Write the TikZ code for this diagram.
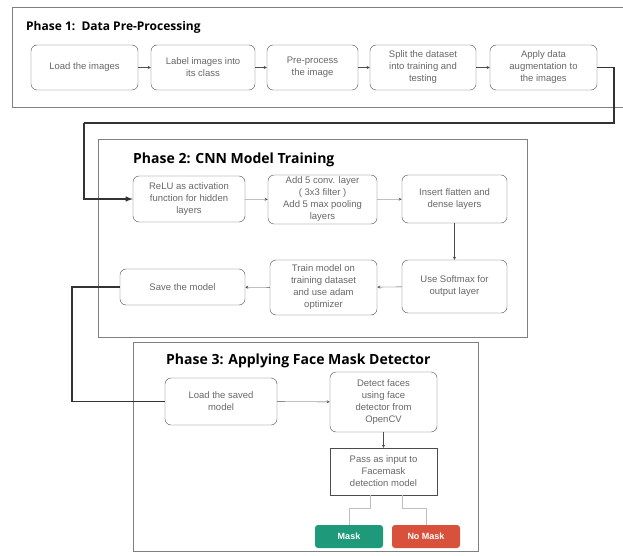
\documentclass[tikz,border=0pt]{standalone}
\usepackage{fontspec}
\setmainfont{Liberation Sans}
\newfontfamily\titlefont{Open Sans}
\usetikzlibrary{calc,arrows,positioning}
\definecolor{maskgreen}{HTML}{1E9A7A}
\definecolor{nomaskred}{HTML}{D8513B}

\begin{document}
\begin{tikzpicture}[x=1pt, y=-1pt]

\tikzset{
proc/.style={draw=black!70,rounded corners=6pt,thin,align=center,text=black!60,inner sep=2pt,font=\fontsize{9.5}{12}\selectfont},
plainproc/.style={proc,rounded corners=0pt},
phase/.style={draw=black!50,line width=1pt},
flow/.style={->,>=stealth,draw=black!70,thin},
link/.style={draw=black!80,line width=1.5pt},
choice/.style={rounded corners=3pt,text=white,minimum width=68pt,minimum height=23pt,font=\bfseries\fontsize{9}{11}\selectfont},
faint/.style={draw=black!25,very thin}
}

\useasboundingbox (0,0) rectangle (623,556);

% Phase frames
\draw[phase] (12,8) rectangle (640,108);
\draw[phase] (98,140) rectangle (527,337);
\draw[phase] (133,342) rectangle (478,551);

% Labels
\node[anchor=west,inner sep=0pt] (title1) at (26,27) {\titlefont\bfseries\fontsize{12}{14}\selectfont Phase 1:\ \ Data Pre-Processing};
\node[anchor=west,inner sep=0pt] (title2) at (133,160) {\titlefont\bfseries\fontsize{14}{16}\selectfont Phase 2: CNN Model Training};
\node[anchor=west,inner sep=0pt] (title3) at (166,361) {\titlefont\bfseries\fontsize{14}{16}\selectfont Phase 3: Applying Face Mask Detector};

% Nodes - phase 1
\node[proc,minimum width=107pt,minimum height=45pt] (load) at (84.5,67.5) {Load the images};
\node[proc,minimum width=104pt,minimum height=45pt] (label) at (203,67.5) {Label images into\\its class};
\node[proc,minimum width=91pt,minimum height=45pt] (prep) at (312.5,67.5) {Pre-process\\the image};
\node[proc,minimum width=106pt,minimum height=45pt] (split) at (423,67.5) {Split the dataset\\into training and\\testing};
\node[proc,minimum width=107pt,minimum height=45pt] (augm) at (543.5,67.5) {Apply data\\augmentation to\\the images};

% Nodes - phase 2
\node[proc,minimum width=112pt,minimum height=46pt] (relu) at (189,199) {ReLU as activation\\function for hidden\\layers};
\node[proc,minimum width=109pt,minimum height=49pt] (conv) at (322.5,199.5) {Add 5 conv. layer\\( 3x3 filter )\\Add 5 max pooling\\layers};
\node[proc,minimum width=105pt,minimum height=48pt] (flat) at (454.5,199) {Insert flatten and\\dense layers};
\node[proc,minimum width=105pt,minimum height=53pt] (soft) at (454.5,286.5) {Use Softmax for\\output layer};
\node[proc,minimum width=107pt,minimum height=55pt] (train) at (323.5,287.5) {Train model on\\training dataset\\and use adam\\optimizer};
\node[proc,minimum width=125pt,minimum height=36pt] (save) at (182.5,287) {Save the model};

% Nodes - phase 3
\node[proc,minimum width=112pt,minimum height=47pt] (loadmod) at (221,401.5) {Load the saved\\model};
\node[proc,minimum width=107pt,minimum height=60pt] (detect) at (383.5,402) {Detect faces\\using face\\detector from\\OpenCV};
\node[plainproc,minimum width=107pt,minimum height=47pt] (pass) at (383.5,471.5) {Pass as input to\\Facemask\\detection model};
\node[choice,fill=maskgreen] (mask) at (349,536.5) {Mask};
\node[choice,fill=nomaskred] (nomask) at (426,536.5) {No Mask};

% Turning points
\coordinate (turn1) at (614,123);
\coordinate (turn2) at (84,123);
\coordinate (turn3) at (72,287);
\coordinate (passl) at (370,495);
\coordinate (passr) at (402,495);

% Arrows
\draw[flow] (load) -- (label);
\draw[flow] (label) -- (prep);
\draw[flow] (prep) -- (split);
\draw[flow] (split) -- (augm);

\draw[link] (augm.east) -| (turn1) -- (turn2);
\draw[link,->,>=latex] (turn2) |- (relu.west);

\draw[flow] (relu) -- (conv);
\draw[flow] (conv) -- (flat);
\draw[flow] (flat) -- (soft);
\draw[flow] (soft) -- (train);
\draw[flow] (train) -- (save);

\draw[link] (save.west) -- (turn3) |- (loadmod.west);

\draw[flow] (loadmod) -- (detect);
\draw[flow] (detect) -- (pass);
\draw[faint] (passl) -- ++(0,13) -| (mask.north);
\draw[faint] (passr) -- ++(0,13) -| (nomask.north);

\end{tikzpicture}
\end{document}
